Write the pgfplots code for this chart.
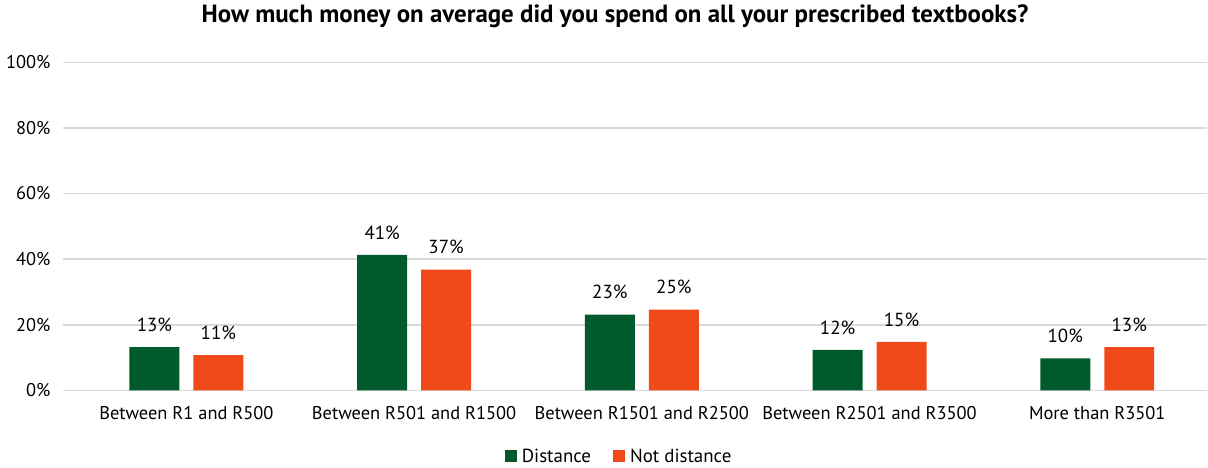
\documentclass[border=0pt]{standalone}
\usepackage{pgfplots}
\pgfplotsset{compat=1.18}
\usepackage{fontspec}
\setmainfont{PT Sans}
\definecolor{distgreen}{RGB}{0,90,43}
\definecolor{notorange}{RGB}{240,74,26}
\definecolor{gridgray}{RGB}{217,217,217}

\begin{document}
\begin{tikzpicture}
% page frame, axis box starts at (0,0)
\path (-63bp,-77.3bp) rectangle (1145bp,390.7bp);
\begin{axis}[
	at={(0,0)}, anchor=south west,
	scale only axis, width=1145bp, height=328.4bp,
	ymin=0, ymax=100,
	xmin=-0.542, xmax=4.483,
	ytick={0,20,...,100},
	yticklabel={\pgfmathprintnumber{\tick}\%},
	/pgf/number format/assume math mode=true,
	ymajorgrids=true,
	grid style={gridgray, line width=1.5bp},
	axis line style={draw=none},
	major tick length=0pt,
	xtick={0,1,2,3,4},
	xticklabels={Between R1 and R500, Between R501 and R1500, Between R1501 and R2500, Between R2501 and R3500, More than R3501},
	ticklabel style={font=\fontsize{18.5}{22}\selectfont},
	yticklabel style={xshift=-9bp},
	xticklabel style={yshift=-12bp},
	ybar, bar width=50bp,
	nodes near coords={\pgfmathprintnumber[fixed,precision=0]{\pgfplotspointmeta}\%},
	every node near coord/.append style={font=\fontsize{19}{22}\selectfont, yshift=12bp, black},
	title={How much money on average did you spend on all your prescribed textbooks?},
	title style={at={(0.4825,1)}, anchor=center, yshift=40bp, font=\bfseries\fontsize{25}{28}\selectfont},
	legend style={at={(0.5,0)}, anchor=center, yshift=-66bp, xshift=-16bp, draw=none,
		font=\fontsize{19}{22}\selectfont, legend columns=2,
		/tikz/every even column/.append style={column sep=20bp}},
	legend image code/.code={\fill[#1] (0bp,-6bp) rectangle (12bp,6bp); \path (15bp,0bp);},
]

\addplot[fill=distgreen, draw=none, bar shift=-32bp]
	coordinates {(0,13.2) (1,41.3) (2,23.1) (3,12.4) (4,9.8)};
\addlegendentry{Distance}

\addplot[fill=notorange, draw=none, bar shift=32bp]
	coordinates {(0,10.8) (1,36.8) (2,24.6) (3,14.8) (4,13.2)};
\addlegendentry{Not distance}

\end{axis}
\end{tikzpicture}
\end{document}
